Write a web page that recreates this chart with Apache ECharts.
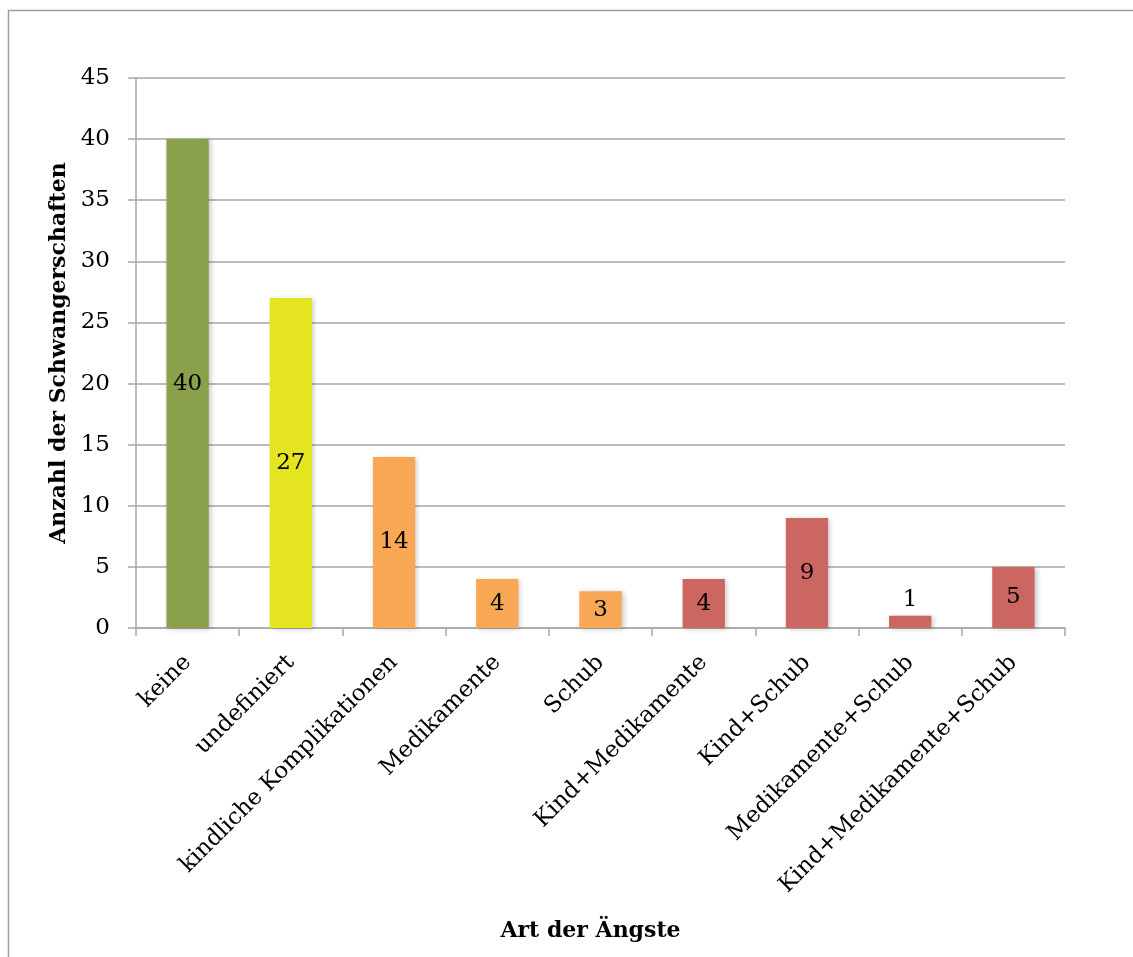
<!DOCTYPE html>
<html>
<head>
<meta charset="utf-8">
<script src="https://cdn.jsdelivr.net/npm/echarts@6/dist/echarts.min.js"></script>
<style>
  html, body { margin: 0; padding: 0; background: #fff; overflow: hidden; }
  #chart { width: 1133px; height: 957px; }
</style>
</head>
<body>
<div id="chart"></div>
<script>
// Fear categories and number of pregnancies per category
const categories = [
  'keine', 'undefiniert', 'kindliche Komplikationen', 'Medikamente', 'Schub',
  'Kind+Medikamente', 'Kind+Schub', 'Medikamente+Schub', 'Kind+Medikamente+Schub'
];
const counts = [40, 27, 14, 4, 3, 4, 9, 1, 5];
const barColors = [
  '#8BA04B', '#E5E420', '#F8A855', '#F8A855', '#F8A855',
  '#CC6660', '#CC6660', '#CC6660', '#CC6660'
];
const yTicks = { min: 0, max: 45, interval: 5 };

const serif = '"DejaVu Serif", "Liberation Serif", serif';
const axisGrey = '#A6A6A6';

const chart = echarts.init(document.getElementById('chart'));

const data = counts.map((v, i) => ({
  value: v,
  itemStyle: { color: barColors[i] },
  // short bars carry their label above the bar
  label: v < 2 ? { position: 'top', distance: 4 } : undefined
}));

chart.setOption({
  animation: false,
  // frame line along the left and top edges
  graphic: [{
    type: 'polyline',
    shape: { points: [[8.5, 957], [8.5, 10.5], [1133, 10.5]] },
    style: { fill: 'none', stroke: '#A0A0A0', lineWidth: 1.5 },
    silent: true
  }],
  grid: { left: 136, right: 68, top: 78, bottom: 329 },
  xAxis: {
    type: 'category',
    data: categories,
    name: 'Art der Ängste',
    nameLocation: 'middle',
    nameGap: 292,
    nameTextStyle: {
      fontFamily: serif, fontSize: 22, fontWeight: 'bold', color: '#000',
      padding: [0, 20, 0, 0]
    },
    axisLine: { lineStyle: { color: axisGrey, width: 1.5 } },
    axisTick: { show: true, alignWithLabel: false, length: 8, lineStyle: { color: axisGrey, width: 1.5 } },
    axisLabel: {
      rotate: 45, interval: 0, margin: 31,
      fontFamily: serif, fontSize: 23, color: '#000'
    }
  },
  yAxis: {
    type: 'value',
    min: yTicks.min, max: yTicks.max, interval: yTicks.interval,
    name: 'Anzahl der Schwangerschaften',
    nameLocation: 'middle',
    nameGap: 50,
    nameRotate: 90,
    nameTextStyle: { fontFamily: serif, fontSize: 22, fontWeight: 'bold', color: '#000' },
    axisLine: { show: true, lineStyle: { color: axisGrey, width: 1.5 } },
    axisTick: { show: true, length: 8, lineStyle: { color: axisGrey, width: 1.5 } },
    splitLine: { lineStyle: { color: axisGrey, width: 1.5 } },
    axisLabel: { margin: 26, fontFamily: serif, fontSize: 23, color: '#000' }
  },
  series: [{
    type: 'bar',
    data: data,
    barWidth: '41%',
    itemStyle: {
      shadowColor: 'rgba(0,0,0,0.22)',
      shadowBlur: 5,
      shadowOffsetX: 2,
      shadowOffsetY: 1
    },
    label: {
      show: true,
      position: 'inside',
      fontFamily: serif,
      fontSize: 23,
      color: '#000'
    }
  }]
});
</script>
</body>
</html>
